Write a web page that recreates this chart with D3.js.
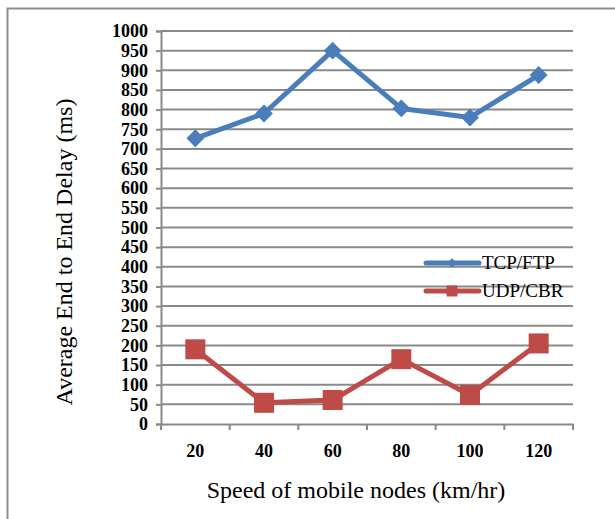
<!DOCTYPE html>
<html>
<head>
<meta charset="utf-8">
<script src="https://cdn.jsdelivr.net/npm/d3@7"></script>
<style>
  body { margin: 0; background: #fff; }
  text { font-family: "Liberation Serif", "Times New Roman", serif; }
</style>
</head>
<body>
<div id="chart-area"></div>
<script>
// data
const speeds = ["20", "40", "60", "80", "100", "120"]
const tcpFtp = [727, 790, 950, 803, 780, 888]
const udpCbr = [190, 54, 61, 165, 74, 205]
const yTicks = d3.range(0, 1001, 50)

const BLUE = "#4a7ebb"
const RED = "#be4b48"
const GRID = "#8a8a8a"

// canvas and margin sizes
const MARGIN = { LEFT: 161, RIGHT: 42, TOP: 31, BOTTOM: 95 }
const WIDTH = 615 - MARGIN.LEFT - MARGIN.RIGHT
const HEIGHT = 519 - MARGIN.TOP - MARGIN.BOTTOM

const svg = d3.select("#chart-area").append("svg")
  .attr("width", 615)
  .attr("height", 519)

// outer frame (runs off the right and bottom edge)
svg.append("rect")
  .attr("x", 7.5).attr("y", 8.5)
  .attr("width", 640).attr("height", 540)
  .attr("fill", "none")
  .attr("stroke", "#8c8c8c")
  .attr("stroke-width", 2)

const g = svg.append("g")
  .attr("transform", `translate(${MARGIN.LEFT}, ${MARGIN.TOP})`)

const x = d3.scaleBand()
  .domain(speeds)
  .range([0, WIDTH])

const y = d3.scaleLinear()
  .domain([0, 1000])
  .range([HEIGHT, 0])

// gridlines
g.append("g")
  .selectAll("line")
  .data(yTicks.filter(d => d > 0))
  .enter().append("line")
  .attr("x1", 0).attr("x2", WIDTH)
  .attr("y1", d => y(d)).attr("y2", d => y(d))
  .attr("stroke", GRID)
  .attr("stroke-width", 2)

// y axis
const yAxisGroup = g.append("g")
  .call(d3.axisLeft(y).tickValues(yTicks).tickFormat(d3.format("d")).tickSize(5).tickPadding(8))
yAxisGroup.select(".domain").attr("stroke", GRID).attr("stroke-width", 2)
yAxisGroup.selectAll(".tick line").attr("stroke", GRID).attr("stroke-width", 2)
yAxisGroup.selectAll("text")
  .attr("font-size", "18px")
  .attr("font-weight", "bold")
  .attr("fill", "#000")

// x axis, ticks sit on band boundaries
const xAxisGroup = g.append("g")
  .attr("transform", `translate(0, ${HEIGHT})`)
  .call(d3.axisBottom(x).tickSize(0).tickPadding(20))
xAxisGroup.select(".domain").attr("stroke", GRID).attr("stroke-width", 2)
xAxisGroup.selectAll("text")
  .attr("font-size", "18px")
  .attr("font-weight", "bold")
  .attr("fill", "#000")
xAxisGroup.selectAll(".bound")
  .data(speeds.map(s => x(s)).concat([WIDTH]))
  .enter().append("line")
  .attr("x1", d => d).attr("x2", d => d)
  .attr("y1", 0).attr("y2", 6)
  .attr("stroke", GRID)
  .attr("stroke-width", 2)

const cx = (d, i) => x(speeds[i]) + x.bandwidth() / 2

const line = d3.line()
  .x((d, i) => cx(d, i))
  .y(d => y(d))

// TCP/FTP series
g.append("path")
  .datum(tcpFtp)
  .attr("d", line)
  .attr("fill", "none")
  .attr("stroke", BLUE)
  .attr("stroke-width", 5)
  .attr("stroke-linejoin", "round")

g.selectAll(".diamond")
  .data(tcpFtp)
  .enter().append("path")
  .attr("class", "diamond")
  .attr("d", d3.symbol(d3.symbolSquare, 160)())
  .attr("transform", (d, i) => `translate(${cx(d, i)}, ${y(d)}) rotate(45)`)
  .attr("fill", BLUE)

// UDP/CBR series
g.append("path")
  .datum(udpCbr)
  .attr("d", line)
  .attr("fill", "none")
  .attr("stroke", RED)
  .attr("stroke-width", 5)
  .attr("stroke-linejoin", "round")

g.selectAll(".square")
  .data(udpCbr)
  .enter().append("path")
  .attr("class", "square")
  .attr("d", d3.symbol(d3.symbolSquare, 400)())
  .attr("transform", (d, i) => `translate(${cx(d, i)}, ${y(d)})`)
  .attr("fill", RED)

// legend
const legend = svg.append("g")
const legendItems = [
  { name: "TCP/FTP", color: BLUE, shape: "diamond", yy: 263 },
  { name: "UDP/CBR", color: RED, shape: "square", yy: 291 }
]
legendItems.forEach(item => {
  legend.append("line")
    .attr("x1", 426).attr("x2", 479)
    .attr("y1", item.yy).attr("y2", item.yy)
    .attr("stroke", item.color)
    .attr("stroke-width", 5)
    .attr("stroke-linecap", "round")
  legend.append("path")
    .attr("d", d3.symbol(d3.symbolSquare, item.shape === "diamond" ? 45 : 120)())
    .attr("transform", `translate(452, ${item.yy})` + (item.shape === "diamond" ? " rotate(45)" : ""))
    .attr("fill", item.color)
  legend.append("text")
    .attr("x", 482)
    .attr("y", item.yy + 6)
    .attr("font-size", "19px")
    .attr("fill", "#000")
    .text(item.name)
})

// X label
svg.append("text")
  .attr("x", 356)
  .attr("y", 498)
  .attr("font-size", "24px")
  .attr("text-anchor", "middle")
  .text("Speed of mobile nodes (km/hr)")

// Y label
svg.append("text")
  .attr("x", -252)
  .attr("y", 72)
  .attr("font-size", "24px")
  .attr("text-anchor", "middle")
  .attr("transform", "rotate(-90)")
  .text("Average End to End Delay (ms)")
</script>
</body>
</html>
